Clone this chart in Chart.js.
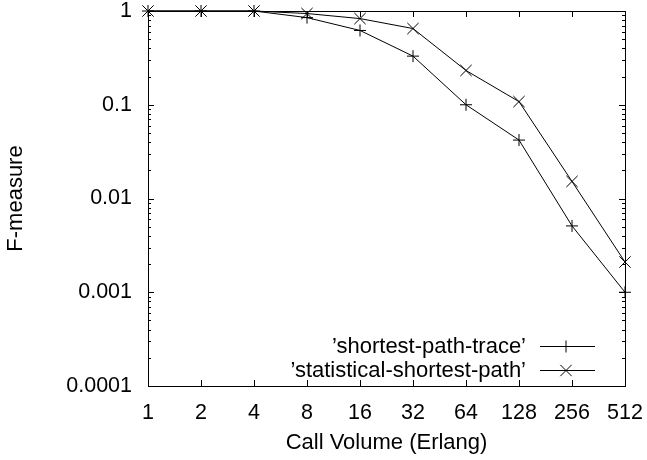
<!DOCTYPE html>
<html>
<head>
<meta charset="utf-8">
<script src="https://cdn.jsdelivr.net/npm/chart.js@4/dist/chart.umd.min.js"></script>
<style>
  body { margin: 0; background: #fff; }
  #wrap { width: 647px; height: 460px; }
</style>
</head>
<body>
<div id="wrap"><canvas id="myChart" width="647" height="460"></canvas></div>
<script>
// call volume in Erlang (log2 spaced categories)
var categories = ['1', '2', '4', '8', '16', '32', '64', '128', '256', '512'];
var shortestPathTrace = [1, 1, 1, 0.85, 0.62, 0.33, 0.10, 0.042, 0.0051, 0.001];
var statisticalShortestPath = [1, 1, 1, 0.94, 0.83, 0.65, 0.232, 0.108, 0.0152, 0.0021];
var yTicks = [0.0001, 0.001, 0.01, 0.1, 1];
var seriesNames = ['\u2019shortest-path-trace\u2019', '\u2019statistical-shortest-path\u2019'];

var FONT = 'Liberation Sans, Arial, Helvetica, sans-serif';
Chart.defaults.color = '#000';
Chart.defaults.font.family = FONT;
Chart.defaults.font.size = 21.5;

function drawMarker(ctx, style, x, y, r) {
    ctx.beginPath();
    if (style === 'cross') {
        ctx.moveTo(x - r, y); ctx.lineTo(x + r, y);
        ctx.moveTo(x, y - r); ctx.lineTo(x, y + r);
    } else {
        var d = r * Math.SQRT1_2;
        ctx.moveTo(x - d, y - d); ctx.lineTo(x + d, y + d);
        ctx.moveTo(x - d, y + d); ctx.lineTo(x + d, y - d);
    }
    ctx.stroke();
}

// gnuplot style frame: box, inward ticks, legend at lower right
var framePlugin = {
    id: 'frame',
    afterDatasetsDraw: function (chart) {
        var ctx = chart.ctx, a = chart.chartArea;
        var xs = chart.scales.x, ys = chart.scales.y;
        ctx.save();
        ctx.strokeStyle = '#000';
        ctx.lineWidth = 1;
        ctx.strokeRect(Math.round(a.left) + 0.5, Math.round(a.top) + 0.5,
            Math.round(a.right - a.left), Math.round(a.bottom - a.top));

        ctx.beginPath();
        categories.forEach(function (c, i) {
            var px = Math.round(xs.getPixelForValue(i)) + 0.5;
            ctx.moveTo(px, a.bottom); ctx.lineTo(px, a.bottom - 6);
            ctx.moveTo(px, a.top); ctx.lineTo(px, a.top + 6);
        });
        yTicks.forEach(function (v, i) {
            var py = Math.round(ys.getPixelForValue(v)) + 0.5;
            ctx.moveTo(a.left, py); ctx.lineTo(a.left + 6, py);
            ctx.moveTo(a.right, py); ctx.lineTo(a.right - 6, py);
            if (i < yTicks.length - 1) {
                for (var m = 2; m <= 9; m++) {
                    var pm = Math.round(ys.getPixelForValue(v * m)) + 0.5;
                    ctx.moveTo(a.left, pm); ctx.lineTo(a.left + 3, pm);
                    ctx.moveTo(a.right, pm); ctx.lineTo(a.right - 3, pm);
                }
            }
        });
        ctx.stroke();

        // legend
        ctx.font = '22px ' + FONT;
        ctx.textAlign = 'right';
        ctx.textBaseline = 'middle';
        chart.data.datasets.forEach(function (ds, i) {
            var y = 346 + i * 24;
            ctx.fillStyle = '#000';
            ctx.fillText(ds.label, 526, y + 1);
            ctx.beginPath();
            ctx.moveTo(540, y + 0.5); ctx.lineTo(595, y + 0.5);
            ctx.stroke();
            drawMarker(ctx, ds.pointStyle, 566, y + 0.5, ds.pointRadius);
        });
        ctx.restore();
    }
};

var ctx = document.getElementById('myChart').getContext('2d');
var myChart = new Chart(ctx, {
    type: 'line',
    data: {
        labels: categories,
        datasets: [
            {
                label: seriesNames[0],
                data: shortestPathTrace,
                borderColor: '#000',
                borderWidth: 1,
                pointStyle: 'cross',
                pointRadius: 6,
                pointBorderColor: '#000',
                pointBorderWidth: 1,
                tension: 0,
                clip: false
            },
            {
                label: seriesNames[1],
                data: statisticalShortestPath,
                borderColor: '#000',
                borderWidth: 1,
                pointStyle: 'crossRot',
                pointRadius: 8,
                pointBorderColor: '#000',
                pointBorderWidth: 1,
                tension: 0,
                clip: false
            }
        ]
    },
    options: {
        responsive: false,
        animation: false,
        events: [],
        layout: { padding: { top: 11, right: 22, left: 0, bottom: 0 } },
        plugins: { legend: { display: false }, tooltip: { enabled: false } },
        scales: {
            x: {
                type: 'category',
                offset: false,
                grid: { display: false, drawTicks: false },
                border: { display: false },
                ticks: { padding: 14, maxRotation: 0, autoSkip: false },
                title: { display: true, text: 'Call Volume (Erlang)', font: { size: 22 }, padding: { top: 0, bottom: 4 } },
                afterFit: function (scale) {
                    scale.height = 74;
                    scale.paddingLeft = 0;
                    scale.paddingRight = 0;
                }
            },
            y: {
                type: 'logarithmic',
                min: 0.0001,
                max: 1,
                grid: { display: false, drawTicks: false },
                border: { display: false },
                afterBuildTicks: function (scale) {
                    scale.ticks = yTicks.map(function (v) { return { value: v }; });
                },
                ticks: {
                    padding: 16,
                    callback: function (v) { return String(v); }
                },
                title: { display: true, text: 'F-measure', font: { size: 22 }, padding: { top: 3, bottom: 0 } },
                afterFit: function (scale) {
                    scale.width = 148;
                    scale.paddingTop = 0;
                    scale.paddingBottom = 0;
                }
            }
        }
    },
    plugins: [framePlugin]
});
</script>
</body>
</html>
